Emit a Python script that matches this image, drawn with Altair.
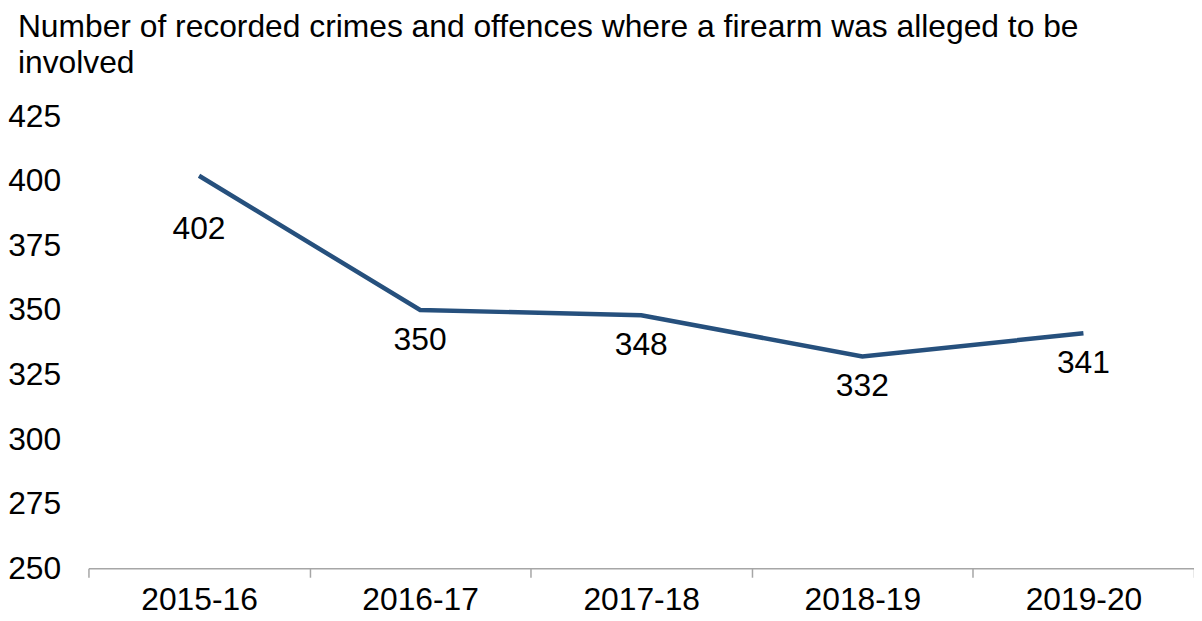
import altair as alt
import pandas as pd

years = ["2015-16", "2016-17", "2017-18", "2018-19", "2019-20"]
values = [402, 350, 348, 332, 341]
y_ticks = [250, 275, 300, 325, 350, 375, 400, 425]
title_lines = ["Number of recorded crimes and offences where a firearm was alleged to be", "involved"]

df = pd.DataFrame({"year": years, "value": values})
df["first"] = [i == 0 for i in range(len(years))]

FONT = "Liberation Sans"
LINE = "#26507d"
FS = 32

base = alt.Chart(df).encode(
    x=alt.X("year:N", sort=years, title=None,
            scale=alt.Scale(paddingInner=0, paddingOuter=0),
            axis=alt.Axis(labelAngle=0, tickBand="extent", domainColor="#a6a6a6",
                          tickColor="#a6a6a6", tickSize=9, labelPadding=8,
                          labelFontSize=FS, labelFont=FONT, labelColor="#000000",
                          grid=False, domainWidth=1.5, tickWidth=1.5)),
    y=alt.Y("value:Q", title=None,
            scale=alt.Scale(domain=[250, 425], nice=False, zero=False),
            axis=alt.Axis(values=y_ticks, domain=False, ticks=False, tickSize=0,
                          labelPadding=28, labelFontSize=FS, labelFont=FONT,
                          labelColor="#000000", grid=False)),
)

line = base.mark_line(color=LINE, strokeWidth=4.5)
labels_first = base.transform_filter("datum.first").mark_text(
    dy=54, fontSize=FS, font=FONT, color="#000000", baseline="middle"
).encode(text="value:Q")
labels_rest = base.transform_filter("!datum.first").mark_text(
    dy=30, fontSize=FS, font=FONT, color="#000000", baseline="middle"
).encode(text="value:Q")

chart = alt.layer(line, labels_first, labels_rest).properties(
    width=1113, height=455,
    background="#ffffff",
    title=alt.TitleParams(title_lines, anchor="start", frame="group", fontSize=FS,
                          font=FONT, fontWeight="normal", color="#000000",
                          dx=-71, offset=21, lineHeight=36),
    autosize=alt.AutoSizeParams(type="none"),
    padding={"left": 81, "top": 107, "right": 0, "bottom": 48},
).configure_view(strokeWidth=0, stroke=None)

chart.save("out.html", embed_options={"renderer": "svg", "actions": False})
